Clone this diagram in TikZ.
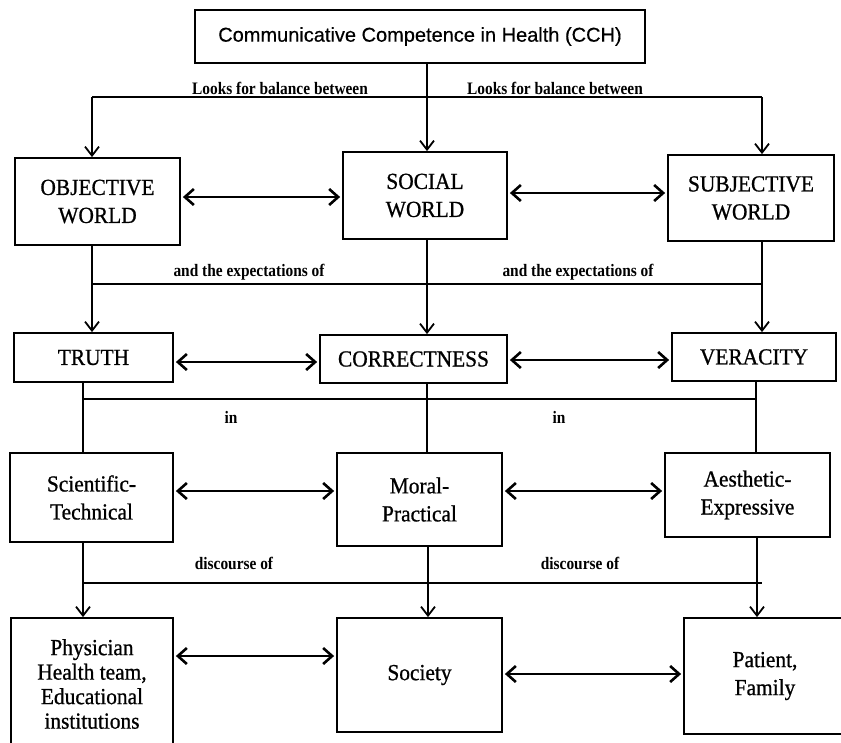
\documentclass[tikz,border=0pt]{standalone}
\usepackage{fontspec}
\setmainfont{Liberation Serif}[FakeStretch=0.93, FakeBold=0.8]
\newfontfamily\labf{Liberation Serif Bold}[FakeStretch=0.88]
\newfontfamily\sansf{Liberation Sans}[FakeBold=0.4]
\usetikzlibrary{arrows.meta}
\begin{document}
\begin{tikzpicture}[x=1pt,y=-1pt,
 box/.style={draw, line width=1.8pt, align=center, inner sep=0pt, font=\fontsize{23}{28}\selectfont},
 conn/.style={line width=1.8pt},
 bar/.style={line width=2.6pt},
 arr/.style={line width=1.8pt, -{Straight Barb[length=9pt,width=14pt]}},
 darr/.style={line width=2.6pt, shorten <=2pt, shorten >=2pt, {Straight Barb[length=9pt,width=16pt]}-{Straight Barb[length=9pt,width=16pt]}},
 lab/.style={font=\labf\fontsize{17.5}{20}\selectfont, inner sep=0pt},
]
\useasboundingbox (0,0) rectangle (841,742);
\fill[white] (0,0) rectangle (841,742);

% boxes
\node[box, font=\sansf\fontsize{20}{23}\selectfont, minimum width=450pt, minimum height=53pt] (cch) at (420,36.5) {Communicative Competence in Health (CCH)};
\node[box, minimum width=165pt, minimum height=87pt] (obj) at (97.5,201.5) {OBJECTIVE\\WORLD};
\node[box, minimum width=164pt, minimum height=87pt] (soc) at (425,195.5) {SOCIAL\\WORLD};
\node[box, minimum width=166pt, minimum height=86pt] (subj) at (751,198) {SUBJECTIVE\\WORLD};
\node[box, minimum width=159pt, minimum height=49pt] (truth) at (93.5,357.5) {TRUTH};
\node[box, minimum width=187pt, minimum height=48pt] (corr) at (413.5,359) {CORRECTNESS};
\node[box, minimum width=164pt, minimum height=48pt] (ver) at (754,357) {VERACITY};
\node[box, minimum width=163pt, minimum height=89pt] (sci) at (91.5,497.5) {Scientific-\\Technical};
\node[box, minimum width=165pt, minimum height=93pt] (moral) at (419.5,499.5) {Moral-\\Practical};
\node[box, minimum width=165pt, minimum height=84pt] (aes) at (747.5,495) {Aesthetic-\\Expressive};
\node[box, font=\fontsize{23}{24.5}\selectfont, minimum width=162pt, minimum height=132pt] (phys) at (92,684) {Physician\\Health team,\\Educational\\institutions};
\node[box, minimum width=165pt, minimum height=114pt] (socy) at (419.5,675) {Society};
\node[box, minimum width=162pt, minimum height=116pt] (pat) at (765,676) {Patient,\\Family};

% bars
\coordinate (b1L) at (92,97);  \coordinate (b1M) at (427,97);  \coordinate (b1R) at (762,97);
\coordinate (b2L) at (92,284); \coordinate (b2M) at (427,284); \coordinate (b2R) at (762,284);
\coordinate (b3L) at (83,399); \coordinate (b3M) at (427,399); \coordinate (b3R) at (756,399);
\coordinate (b4L) at (83,583); \coordinate (b4M) at (428,583); \coordinate (b4R) at (762,583);
\coordinate (b4r) at (757,583);

\draw[bar] (b1L) -- (b1R);
\draw[bar] (b2L) -- (b2R);
\draw[bar] (b3L) -- (b3R);
\draw[bar] (b4L) -- (b4R);

% level 1
\draw[arr] (b1M |- cch.south) -- (b1M |- soc.north);
\draw[arr] (b1L) -- (b1L |- obj.north);
\draw[arr] (b1R) -- (b1R |- subj.north);
% level 2
\draw[conn] (b2L |- obj.south) -- (b2L);
\draw[conn] (b2M |- soc.south) -- (b2M);
\draw[conn] (b2R |- subj.south) -- (b2R);
\draw[arr] (b2L) -- (b2L |- truth.north);
\draw[arr] (b2M) -- (b2M |- corr.north);
\draw[arr] (b2R) -- (b2R |- ver.north);
% level 3
\draw[conn] (b3L |- truth.south) -- (b3L |- sci.north);
\draw[conn] (b3M |- corr.south) -- (b3M |- moral.north);
\draw[conn] (b3R |- ver.south) -- (b3R |- aes.north);
% level 4
\draw[conn] (b4L |- sci.south) -- (b4L);
\draw[conn] (b4M |- moral.south) -- (b4M);
\draw[conn] (b4r |- aes.south) -- (b4r);
\draw[arr] (b4L) -- (b4L |- phys.north);
\draw[arr] (b4M) -- (b4M |- socy.north);
\draw[arr] (b4r) -- (b4r |- pat.north);

% double arrows
\draw[darr] (obj.east |- 0,197) -- (soc.west |- 0,197);
\draw[darr] (soc.east |- 0,193) -- (subj.west |- 0,193);
\draw[darr] (truth.east |- 0,362) -- (corr.west |- 0,362);
\draw[darr] (corr.east |- 0,360) -- (ver.west |- 0,360);
\draw[darr] (sci.east |- 0,491) -- (moral.west |- 0,491);
\draw[darr] (moral.east |- 0,491) -- (aes.west |- 0,491);
\draw[darr] (phys.east |- 0,656) -- (socy.west |- 0,656);
\draw[darr] (socy.east |- 0,674) -- (pat.west |- 0,674);

% labels
\node[lab] (l1) at (280,88) {Looks for balance between};
\node[lab] (l2) at (555,88) {Looks for balance between};
\node[lab] (l3) at (249,272) {and the expectations of};
\node[lab] (l4) at (578,272) {and the expectations of};
\node[lab] (l5) at (231,417) {in};
\node[lab] (l6) at (559,417) {in};
\node[lab] (l7) at (234,563) {discourse of};
\node[lab] (l8) at (580,563) {discourse of};
\end{tikzpicture}
\end{document}
